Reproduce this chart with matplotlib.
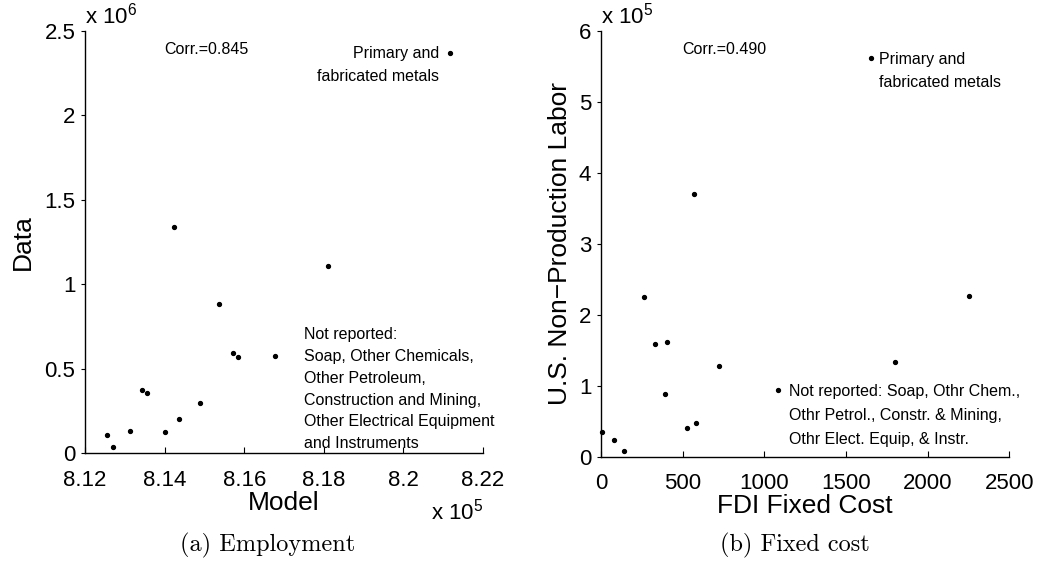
import matplotlib
matplotlib.use("Agg")
import matplotlib.pyplot as plt
import numpy as np

plt.rcParams['font.family'] = ['Liberation Sans', 'DejaVu Sans']
plt.rcParams['mathtext.fontset'] = 'custom'
plt.rcParams['mathtext.rm'] = 'Liberation Sans'
plt.rcParams['mathtext.it'] = 'Liberation Sans'

# Panel (a): Employment, model vs data
emp_model = [812550, 812700, 813140, 813420, 813550, 814000, 814370, 814890,
             815370, 815720, 815840, 816770, 814230, 818110, 821180]
emp_data = [107000, 34000, 128000, 373000, 357000, 126000, 201000, 294000,
            883000, 594000, 571000, 575000, 1337000, 1110000, 2370000]

# Panel (b): Fixed cost vs U.S. non-production labor
fdi_cost = [4, 78, 139, 265, 329, 404, 394, 529, 582, 722, 1085, 1802, 2253, 571, 1653]
nonprod_labor = [35200, 23100, 8500, 224700, 159300, 161200, 88800, 40500,
                 47900, 127800, 93600, 133900, 226000, 370000, 562000]

emp_xticks = [8.12, 8.14, 8.16, 8.18, 8.20, 8.22]
emp_xticklabels = ['8.12', '8.14', '8.16', '8.18', '8.2', '8.22']
emp_yticks = [0, 0.5, 1, 1.5, 2, 2.5]
emp_yticklabels = ['0', '0.5', '1', '1.5', '2', '2.5']
fc_xticks = [0, 500, 1000, 1500, 2000, 2500]
fc_yticks = [0, 1, 2, 3, 4, 5, 6]

fig = plt.figure(figsize=(10.42, 5.63), dpi=100)
ax1 = fig.add_axes([0.0816, 0.1954, 0.3819, 0.7495])
ax2 = fig.add_axes([0.5768, 0.1888, 0.3918, 0.7561])

tick_fs = 16
lab_fs = 19
ann_fs = 11.5

for ax in (ax1, ax2):
    for s in ('top', 'right'):
        ax.spines[s].set_visible(False)
    ax.spines['left'].set_linewidth(1.0)
    ax.spines['bottom'].set_linewidth(1.0)
    ax.tick_params(axis='x', direction='in', length=4, labelsize=tick_fs, pad=12)
    ax.tick_params(axis='y', direction='out', length=3, labelsize=tick_fs, pad=4)

# Panel (a)
ax1.plot(np.array(emp_model) / 1e5, np.array(emp_data) / 1e6, 'o', color='k',
         markersize=2.8, clip_on=False)
ax1.set_xlim(8.12, 8.22)
ax1.set_ylim(0, 2.5)
ax1.set_xticks(emp_xticks)
ax1.set_xticklabels(emp_xticklabels)
ax1.set_yticks(emp_yticks)
ax1.set_yticklabels(emp_yticklabels)
ax1.set_xlabel('Model', fontsize=lab_fs, labelpad=0)
ax1.set_ylabel('Data', fontsize=lab_fs, labelpad=7)
ax1.text(0.0, 1.005, r'x 10$^{6}$', transform=ax1.transAxes, fontsize=tick_fs,
         ha='left', va='bottom')
ax1.text(1.0, -0.108, r'x 10$^{5}$', transform=ax1.transAxes, fontsize=tick_fs,
         ha='right', va='top')
ax1.text(8.1399, 2.392, 'Corr.=0.845', fontsize=ann_fs, ha='left', va='center')
ax1.text(8.2090, 2.41, 'Primary and\nfabricated metals', fontsize=ann_fs,
         ha='right', va='top', linespacing=1.61)
ax1.text(8.1750, 0.746, 'Not reported:\nSoap, Other Chemicals,\nOther Petroleum,\n'
         'Construction and Mining,\nOther Electrical Equipment\nand Instruments',
         fontsize=ann_fs, ha='left', va='top', linespacing=1.57)

# Panel (b)
ax2.plot(np.array(fdi_cost), np.array(nonprod_labor) / 1e5, 'o', color='k',
         markersize=2.8, clip_on=False)
ax2.set_xlim(0, 2500)
ax2.set_ylim(0, 6)
ax2.set_xticks(fc_xticks)
ax2.set_yticks(fc_yticks)
ax2.set_xlabel('FDI Fixed Cost', fontsize=lab_fs, labelpad=0)
ax2.set_ylabel('U.S. Non\u2212Production Labor', fontsize=lab_fs, labelpad=5)
ax2.text(0.0, 1.005, r'x 10$^{5}$', transform=ax2.transAxes, fontsize=tick_fs,
         ha='left', va='bottom')
ax2.text(500, 5.742, 'Corr.=0.490', fontsize=ann_fs, ha='left', va='center')
ax2.text(1704, 5.70, 'Primary and\nfabricated metals', fontsize=ann_fs,
         ha='left', va='top', linespacing=1.67)
ax2.text(1153, 1.03, 'Not reported: Soap, Othr Chem.,\nOthr Petrol., Constr. & Mining,\n'
         'Othr Elect. Equip, & Instr.', fontsize=ann_fs, ha='left', va='top',
         linespacing=1.77)

fig.text(268 / 1042, 1 - 545 / 563, '(a) Employment', family='cmr10', fontsize=17.5,
         ha='center', va='center')
fig.text(795 / 1042, 1 - 545 / 563, '(b) Fixed cost', family='cmr10', fontsize=17.5,
         ha='center', va='center')

fig.savefig('out.png', dpi=100)
